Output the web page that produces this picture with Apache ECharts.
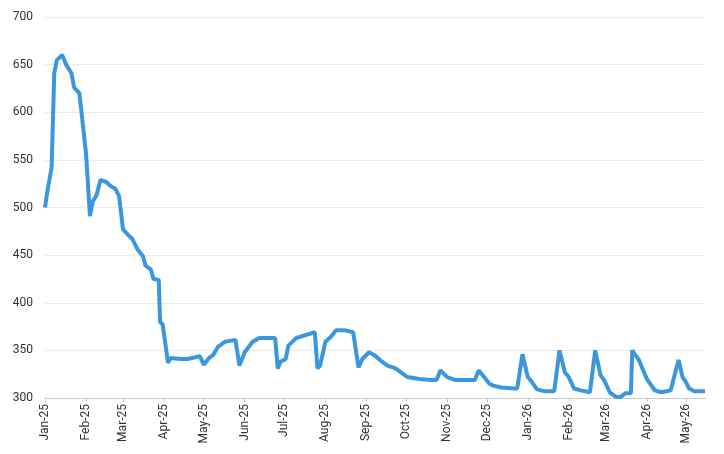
<!DOCTYPE html>
<html>
<head>
<meta charset="utf-8">
<script src="https://cdn.jsdelivr.net/npm/echarts@6/dist/echarts.min.js"></script>
<style>
  html, body { margin: 0; padding: 0; background: #fff; }
  #chart { width: 724px; height: 454px; }
</style>
</head>
<body>
<div id="chart"></div>
<script>
// dates and values
var dates = [
  '2025-01-01','2025-01-03','2025-01-06','2025-01-08','2025-01-10','2025-01-14','2025-01-17','2025-01-21','2025-01-23','2025-01-27',
  '2025-02-01','2025-02-04','2025-02-06','2025-02-09','2025-02-12','2025-02-16','2025-02-20','2025-02-23','2025-02-26',
  '2025-03-01','2025-03-05','2025-03-08','2025-03-12','2025-03-16','2025-03-18','2025-03-22','2025-03-24','2025-03-28','2025-03-29','2025-03-31',
  '2025-04-04','2025-04-06','2025-04-14','2025-04-19','2025-04-28',
  '2025-05-01','2025-05-05','2025-05-08','2025-05-12','2025-05-17','2025-05-25','2025-05-28',
  '2025-06-01','2025-06-07','2025-06-12','2025-06-19','2025-06-24','2025-06-26','2025-06-28',
  '2025-07-02','2025-07-04','2025-07-10','2025-07-17','2025-07-24','2025-07-26','2025-07-28',
  '2025-08-01','2025-08-05','2025-08-09','2025-08-16','2025-08-22','2025-08-26','2025-08-29',
  '2025-09-03','2025-09-07','2025-09-12','2025-09-17','2025-09-23',
  '2025-10-02','2025-10-11','2025-10-20','2025-10-24','2025-10-27',
  '2025-11-01','2025-11-07','2025-11-20','2025-11-22','2025-11-25','2025-11-29',
  '2025-12-03','2025-12-06','2025-12-12','2025-12-22','2025-12-24','2025-12-28',
  '2026-01-01','2026-01-04','2026-01-08','2026-01-14','2026-01-21','2026-01-25','2026-01-29',
  '2026-02-01','2026-02-05','2026-02-10','2026-02-17','2026-02-21','2026-02-25','2026-02-28',
  '2026-03-04','2026-03-09','2026-03-12','2026-03-16','2026-03-20','2026-03-21','2026-03-26',
  '2026-04-01','2026-04-07','2026-04-12','2026-04-19','2026-04-25','2026-04-28','2026-04-30',
  '2026-05-03','2026-05-07','2026-05-15'
];
var values = [
  500, 519, 542, 641, 655, 660, 650, 641, 626, 620,
  557, 491, 506, 513, 529, 527, 522, 520, 512,
  477, 471, 467, 456, 449, 439, 435, 425, 424, 380, 377,
  337, 342, 341, 341, 344,
  335, 342, 345, 354, 359, 361, 334,
  348, 359, 363, 363, 363, 331, 338,
  341, 355, 363, 366, 369, 331, 334,
  359, 364, 371, 371, 369, 332, 341,
  348, 345, 339, 334, 331,
  322, 320, 319, 319, 329,
  322, 319, 319, 319, 329, 322,
  315, 313, 311, 310, 310, 346,
  322, 317, 309, 307, 307, 350, 327,
  322, 310, 308, 306, 350, 324, 318,
  306, 301, 301, 305, 305, 350, 340,
  320, 308, 306, 308, 340, 322, 318,
  310, 307, 307
];
var monthNames = ['Jan','Feb','Mar','Apr','May','Jun','Jul','Aug','Sep','Oct','Nov','Dec'];
var yTicks = { min: 300, max: 700, step: 50 };

var seriesData = dates.map(function (d, i) { return [d, values[i]]; });
var DAY = 24 * 3600 * 1000;

var myChart = echarts.init(document.getElementById('chart'));
var option = {
  useUTC: true,
  animation: false,
  grid: { left: 45, right: 19, top: 17, bottom: 56, containLabel: false },
  xAxis: {
    type: 'time',
    min: '2025-01-01',
    max: '2026-05-15',
    minInterval: 28 * DAY,
    maxInterval: 31 * DAY,
    splitLine: { show: false },
    axisLine: { lineStyle: { color: '#cccccc' } },
    axisTick: { show: true, length: 4, lineStyle: { color: '#cccccc' } },
    axisLabel: {
      rotate: 90,
      color: '#333',
      fontSize: 12,
      fontFamily: 'Roboto',
      margin: 6,
      hideOverlap: false,
      formatter: function (v) {
        var d = new Date(v);
        return monthNames[d.getUTCMonth()] + '-' + String(d.getUTCFullYear()).slice(2);
      }
    }
  },
  yAxis: {
    type: 'value',
    min: yTicks.min,
    max: yTicks.max,
    interval: yTicks.step,
    axisLine: { show: false },
    axisTick: { show: false },
    splitLine: { lineStyle: { color: '#ebebeb' } },
    axisLabel: { color: '#333', fontSize: 12, fontFamily: 'Roboto', margin: 12 }
  },
  series: [
    {
      type: 'line',
      data: seriesData,
      showSymbol: false,
      lineStyle: { color: '#3a96dd', width: 4 },
      itemStyle: { color: '#3a96dd' }
    }
  ]
};
myChart.setOption(option);
</script>
</body>
</html>
